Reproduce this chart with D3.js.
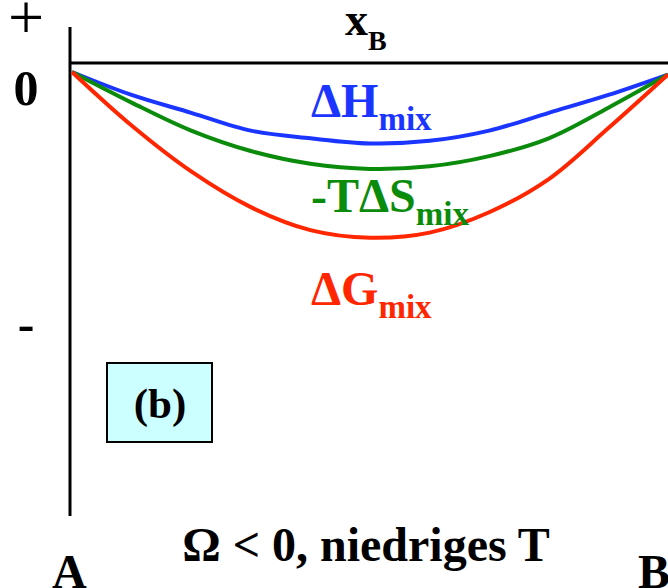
<!DOCTYPE html>
<meta charset="utf-8">
<style>
body { margin: 0; background: #fff; }
text { font-family: "Liberation Serif", "Times New Roman", serif; font-weight: bold; }
</style>
<svg width="668" height="588"></svg>
<script src="https://d3js.org/d3.v7.min.js"></script>
<script>

// mole fraction x_B
var xB = [0, 0.1, 0.2, 0.3, 0.4, 0.5, 0.6, 0.7, 0.8, 0.9, 1.0];

// schematic values (arbitrary units)
var dH  = [0, -0.09, -0.16, -0.23, -0.26, -0.28, -0.27, -0.23, -0.16, -0.09, -0.01];
var mTS = [0, -0.12, -0.23, -0.31, -0.36, -0.38, -0.37, -0.33, -0.26, -0.14, -0.01];
var dG  = [0, -0.21, -0.39, -0.53, -0.62, -0.65, -0.63, -0.55, -0.42, -0.22, -0.01];

var yTicks = ["+", "0", "-"];
var yTickValues = [0.2, 0, -1];

var svg = d3.select("svg");

var x = d3.scaleLinear().domain([0, 1]).range([72, 668]);
var y = d3.scaleLinear().domain([0, -1]).range([72, 327]);

// axes
svg.append("line")
    .attr("x1", 70).attr("x2", 70)
    .attr("y1", 27).attr("y2", 516)
    .attr("stroke", "#000").attr("stroke-width", 3);
svg.append("line")
    .attr("x1", 70).attr("x2", 668)
    .attr("y1", 63).attr("y2", 63)
    .attr("stroke", "#000").attr("stroke-width", 3);

// curves
var line = d3.line()
    .x(function(d, i) { return x(xB[i]); })
    .y(function(d) { return y(d); })
    .curve(d3.curveCatmullRom);

var series = [
  {values: dH, color: "#1a35ff"},
  {values: mTS, color: "#0b8b0b"},
  {values: dG, color: "#ff2600"}
];

svg.selectAll("path.curve")
  .data(series)
  .enter().append("path")
    .attr("class", "curve")
    .attr("d", function(d) { return line(d.values); })
    .attr("fill", "none")
    .attr("stroke", function(d) { return d.color; })
    .attr("stroke-width", 4);

// y tick labels
var tickDy = [18, 33, 14];
svg.selectAll("text.tick")
  .data(yTicks)
  .enter().append("text")
    .attr("class", "tick")
    .attr("x", 26)
    .attr("y", function(d, i) { return y(yTickValues[i]) + tickDy[i]; })
    .attr("text-anchor", "middle")
    .style("font-size", function(d) { return d === "+" ? "64px" : "50px"; })
    .style("font-weight", function(d) { return d === "+" ? "normal" : "bold"; })
    .text(function(d) { return d; });

// x axis label
var xl = svg.append("text").attr("x", 345).attr("y", 35).style("font-size", "46px");
xl.append("tspan").text("x");
xl.append("tspan").attr("dy", 15).style("font-size", "28px").text("B");

// curve labels
var labels = [
  {main: "\u0394H", sub: "mix", x: 311, y: 117, color: "#1a35ff"},
  {main: "-T\u0394S", sub: "mix", x: 311, y: 212, color: "#0b8b0b"},
  {main: "\u0394G", sub: "mix", x: 311, y: 305, color: "#ff2600"}
];
labels.forEach(function(l) {
  var t = svg.append("text")
      .attr("x", l.x).attr("y", l.y)
      .attr("fill", l.color)
      .style("font-size", "48px");
  t.append("tspan").text(l.main);
  t.append("tspan").attr("dy", 13).style("font-size", "33px").text(l.sub);
});

// (b) box
svg.append("rect")
    .attr("x", 107).attr("y", 363)
    .attr("width", 105).attr("height", 79)
    .attr("fill", "#ccffff")
    .attr("stroke", "#000").attr("stroke-width", 2);
svg.append("text")
    .attr("x", 160).attr("y", 418)
    .attr("text-anchor", "middle")
    .style("font-size", "43px")
    .text("(b)");

// bottom labels
svg.append("text")
    .attr("x", 366).attr("y", 561)
    .attr("text-anchor", "middle")
    .style("font-size", "48px")
    .text("\u03a9 < 0, niedriges T");
svg.append("text")
    .attr("x", 52).attr("y", 588)
    .style("font-size", "48px")
    .text("A");
svg.append("text")
    .attr("x", 638).attr("y", 588)
    .style("font-size", "48px")
    .text("B");

</script>
